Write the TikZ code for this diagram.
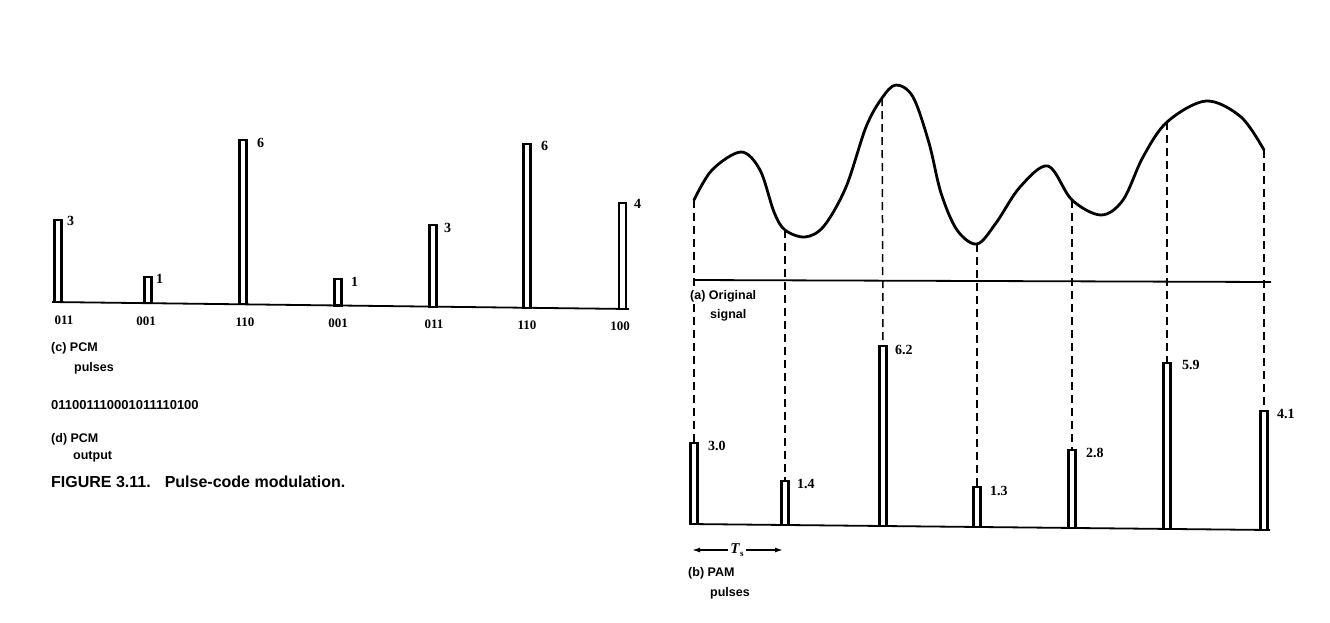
\documentclass[tikz,border=0pt]{standalone}
\usepackage{fontspec}
\setmainfont{Liberation Serif}
\setsansfont{Liberation Sans}
\usetikzlibrary{arrows.meta}
\begin{document}
\begin{tikzpicture}[x=1pt,y=-1pt,
  pulsebar/.style={draw, line width=2.1pt, fill=white},
  sig/.style={line width=2.8pt, line join=round, line cap=round},
  dsh/.style={line width=1.5pt, dash pattern=on 8pt off 5pt},
  axisline/.style={line width=1.8pt},
  num/.style={font=\fontsize{14}{14}\selectfont\bfseries, anchor=west, inner sep=0pt},
  bits/.style={font=\fontsize{13}{13}\selectfont\bfseries, anchor=center, inner sep=0pt},
  lab/.style={font=\sffamily\bfseries\fontsize{12.5}{12.5}\selectfont, anchor=west, inner sep=0pt},
  arr/.style={line width=1.4pt, -{Latex[length=8pt,width=5pt]}}]
\useasboundingbox (0,0) rectangle (1330,622);

% ---------- left: PCM pulses ----------
\coordinate (lb0) at (52,302);
\coordinate (lb1) at (629,309);
\draw[axisline] (lb0) -- (lb1);
\draw[pulsebar] (54.5,302) rectangle (61.5,220);
\draw[pulsebar] (144.5,303.2) rectangle (151.5,277);
\draw[pulsebar] (239.5,304.3) rectangle (246.5,140);
\draw[pulsebar] (334.5,305.5) rectangle (341.5,279);
\draw[pulsebar] (429.5,306.6) rectangle (436.5,225);
\draw[pulsebar] (523.5,307.8) rectangle (530.5,144);
\draw[pulsebar] (619,308.9) rectangle (626,203);
\node[num] (n1) at (67,221) {3};
\node[num] (n2) at (156,279) {1};
\node[num] (n3) at (257,143) {6};
\node[num] (n4) at (351,282) {1};
\node[num] (n5) at (444,228) {3};
\node[num] (n6) at (541,146) {6};
\node[num] (n7) at (634,204) {4};
\node[bits] (b1) at (64,320) {011};
\node[bits] (b2) at (146,321) {001};
\node[bits] (b3) at (245,322) {110};
\node[bits] (b4) at (338,323) {001};
\node[bits] (b5) at (434,324) {011};
\node[bits] (b6) at (527,325) {110};
\node[bits] (b7) at (620,326) {100};
\node[lab] (c1) at (51,348) {(c) PCM};
\node[lab] (c2) at (74,368) {pulses};
\node[lab, font=\sffamily\bfseries\fontsize{13}{13}\selectfont] (bs) at (51,405) {011001110001011110100};
\node[lab] (d1) at (51,439) {(d) PCM};
\node[lab] (d2) at (73,457) {output};
\node[lab, font=\sffamily\bfseries\fontsize{16}{16}\selectfont] (fig) at (51,482) {FIGURE 3.11.\hspace{14pt}Pulse-code modulation.};

% ---------- right: original signal ----------
\coordinate (s1) at (694,200);
\coordinate (s2) at (785,230);
\coordinate (s3) at (882,98);
\coordinate (s4) at (977,244);
\coordinate (s5) at (1072,200);
\coordinate (s6) at (1167,122);
\coordinate (s7) at (1264,150);
\draw[sig] plot[smooth, tension=0.55] coordinates {
  (694,200) (712,170) (741,152) (760,170) (774,212) (785,230) (805,237)
  (824,226) (846,187) (866,127) (882,98) (896,85) (913,97) (929,143)
  (941,193) (957,230) (977,244) (996,223) (1020,187) (1048,166)
  (1072,200) (1101,215) (1123,200) (1143,157) (1167,122)
  (1206,101) (1241,117) (1264,150)};
\coordinate (ax0) at (693,280);
\coordinate (ax1) at (1271,282);
\draw[axisline] (ax0) -- (ax1);

% ---------- PAM pulses ----------
\coordinate (rb0) at (690,524);
\coordinate (rb1) at (1270,530);
\draw[axisline] (rb0) -- (rb1);
\coordinate (t1) at (694,443);
\coordinate (t2) at (785,481);
\coordinate (t3) at (883,346);
\coordinate (t4) at (977,487);
\coordinate (t5) at (1072,450);
\coordinate (t6) at (1167,363);
\coordinate (t7) at (1264,411);
\draw[dsh] (s1) -- (t1);
\draw[dsh] (s2) -- (t2);
\draw[dsh] (s3) -- (t3);
\draw[dsh] (s4) -- (t4);
\draw[dsh] (s5) -- (t5);
\draw[dsh] (s6) -- (t6);
\draw[dsh] (s7) -- (t7);
\node[lab, fill=white, inner ysep=1pt] (a1) at (690,296) {(a) Original};
\node[lab] (a2) at (710,315) {signal};
\draw[pulsebar] (690.5,524) rectangle (697.5,443);
\draw[pulsebar] (781.5,525) rectangle (788.5,481);
\draw[pulsebar] (879.5,526) rectangle (886.5,346);
\draw[pulsebar] (973.5,527) rectangle (980.5,487);
\draw[pulsebar] (1068.5,528) rectangle (1075.5,450);
\draw[pulsebar] (1163.5,529) rectangle (1170.5,363);
\draw[pulsebar] (1260.5,530) rectangle (1267.5,411);
\node[num] (v1) at (708,446) {3.0};
\node[num] (v2) at (797,484) {1.4};
\node[num] (v3) at (895,350) {6.2};
\node[num] (v4) at (990,491) {1.3};
\node[num] (v5) at (1086,453) {2.8};
\node[num] (v6) at (1182,365) {5.9};
\node[num] (v7) at (1277,414) {4.1};

% ---------- T_s ----------
\node[font=\fontsize{15}{15}\selectfont\bfseries, fill=white, inner sep=2pt] (ts) at (737,550) {\textit{T}\raisebox{-3pt}{\fontsize{9}{9}\selectfont s}};
\coordinate (tsL) at (692,550);
\coordinate (tsR) at (783,550);
\draw[arr] (ts) -- (tsL);
\draw[arr] (ts) -- (tsR);
\node[lab] (p1) at (688,573) {(b) PAM};
\node[lab] (p2) at (710,593) {pulses};
\end{tikzpicture}
\end{document}
